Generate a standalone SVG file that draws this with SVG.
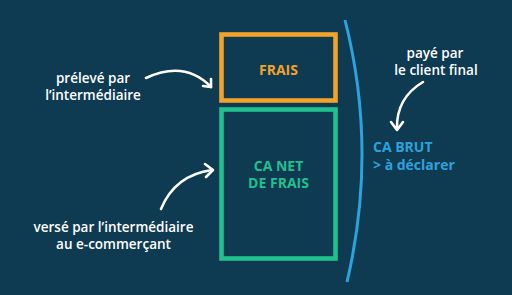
<svg xmlns="http://www.w3.org/2000/svg" width="512" height="295" viewBox="0 0 512 295">
<defs>
<style>
.bg{fill:#0e3a52}
.t{font-family:"Open Sans","Noto Sans",sans-serif;font-weight:600;font-size:13.5px;fill:#ffffff;text-anchor:middle}
.lbl{font-family:"Open Sans","Noto Sans",sans-serif;font-weight:700;font-size:14px;text-anchor:middle}
.arr{fill:none;stroke:#ffffff;stroke-width:2.6;stroke-linecap:round;stroke-linejoin:round}
</style>
</defs>
<rect class="bg" x="0" y="0" width="512" height="295"/>
<g id="frais">
<rect x="221.5" y="34.5" width="114" height="66" fill="none" stroke="#f3a32a" stroke-width="4.6"/>
<text class="lbl" x="278.5" y="74.5" fill="#f3a32a">FRAIS</text>
</g>
<g id="net">
<rect x="221.5" y="109.5" width="114" height="149" fill="none" stroke="#22c08e" stroke-width="4.6"/>
<text class="lbl" x="278.5" y="170.5" fill="#22c08e">CA NET</text>
<text class="lbl" x="278.5" y="188" fill="#22c08e">DE FRAIS</text>
</g>
<g id="brut">
<path d="M345,20 Q378,150 347,282" fill="none" stroke="#2ba3dd" stroke-width="3"/>
<text class="lbl" x="373" y="152" fill="#2ba3dd" style="text-anchor:start">CA BRUT</text>
<text class="lbl" x="373" y="170" fill="#2ba3dd" style="text-anchor:start">&gt; à déclarer</text>
</g>
<g id="label-preleve">
<text class="t" x="93" y="82.5">prélevé par</text>
<text class="t" x="93" y="99.5">l’intermédiaire</text>
</g>
<g id="label-verse">
<text class="t" x="113.5" y="231.5">versé par l’intermédiaire</text>
<text class="t" x="113.5" y="248.5">au e-commerçant</text>
</g>
<g id="label-paye">
<text class="t" x="435" y="57.5">payé par</text>
<text class="t" x="436" y="74.5">le client final</text>
</g>
<g id="connectors">
<path class="arr" d="M146,78 Q185,60 211,87"/>
<path class="arr" d="M203,86 L211,87 L211,79"/>
<path class="arr" d="M161,209 Q175,175 212,170"/>
<path class="arr" d="M205,164 L213,170 L206,177"/>
<path class="arr" d="M423,82 Q396,98 397,129"/>
<path class="arr" d="M391,122 L397,130 L403,122"/>
</g>
</svg>
